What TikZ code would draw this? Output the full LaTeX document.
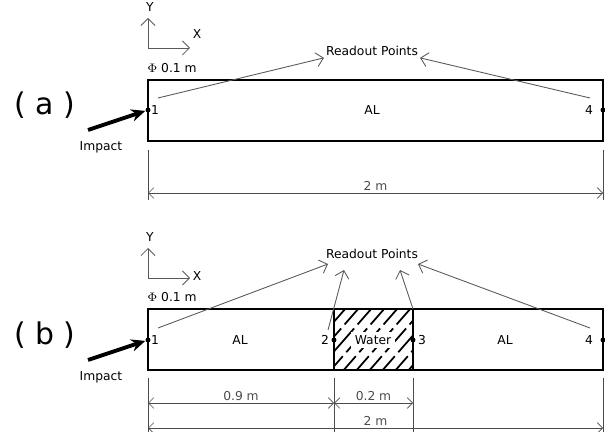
\documentclass[tikz,border=0pt]{standalone}
\usepackage{fontspec}
\setmainfont{DejaVu Sans}
\usetikzlibrary{arrows.meta}
\tikzset{
    bar/.style = {line width=1.2pt,draw=black},
    thin/.style = {-{Straight Barb[length=4pt]},gray!70!black,line width=0.5pt},
    dimline/.style = {{Straight Barb[length=3pt]}-{Straight Barb[length=3pt]},gray!60!black,line width=0.4pt},
    tick/.style = {gray!60!black,line width=0.4pt},
    lbl/.style = {font=\fontsize{7}{8}\selectfont,inner sep=1pt},
    big/.style = {font=\fontsize{17}{18}\selectfont},
    pt/.style = {circle,fill=black,inner sep=1pt},
    hit/.style = {-{Stealth[length=8pt,width=7pt]},line width=2.2pt}
}
\begin{document}
\begin{tikzpicture}[x=0.02cm,y=-0.02cm]
\useasboundingbox (0,0) rectangle (605,432);
% (a)
\node[big] (la) at (45,105) {( a )};
\coordinate (oa) at (148,48);
\draw[thin] (oa) -- (148,18);
\draw[thin] (oa) -- (190,48);
\node[lbl] at (150,7) {Y};
\node[lbl] at (197,34) {X};
\node[lbl] at (172,68) {$\Phi$ 0.1 m};
\draw[bar] (148,80) rectangle (603,141);
\node[lbl] (ala) at (372,110) {AL};
\node[pt] (a1) at (148,110) {};
\node[pt] (a4) at (603,110) {};
\node[lbl] at (155,110) {1};
\node[lbl] at (589,110) {4};
\node[lbl] (rpa) at (372,51) {Readout Points};
\draw[thin] (158,98) -- (rpa.south west);
\draw[thin] (590,98) -- (rpa.south east);
\coordinate (ia) at (88,130);
\draw[hit] (ia) -- (a1);
\node[lbl] at (101,147) {Impact};
\draw[tick] (148,150) -- (148,200) (603,150) -- (603,200);
\draw[dimline] (148,193) -- node[lbl,above] {2 m} (603,193);
% (b)
\node[big] (lb) at (45,335) {( b )};
\coordinate (ob) at (148,278);
\draw[thin] (ob) -- (148,248);
\draw[thin] (ob) -- (190,278);
\node[lbl] at (150,237) {Y};
\node[lbl] at (197,276) {X};
\node[lbl] at (172,297) {$\Phi$ 0.1 m};
\begin{scope}
\clip (334,309) rectangle (413,370);
\foreach \k in {0,...,12}
  \draw[line width=1pt,dash pattern=on 18pt off 3pt] (270+\k*13,380) -- (340+\k*13,300);
\end{scope}
\draw[bar] (148,309) rectangle (603,370);
\draw[bar] (334,309) -- (334,370) (413,309) -- (413,370);
\node[lbl] at (240,340) {AL};
\node[lbl] at (505,340) {AL};
\node[lbl,fill=white,inner sep=2pt] at (373,340) {Water};
\node[pt] (b1) at (148,340) {};
\node[pt] (b2) at (334,340) {};
\node[pt] (b3) at (413,340) {};
\node[pt] (b4) at (603,340) {};
\node[lbl] at (155,340) {1};
\node[lbl] at (325,340) {2};
\node[lbl] at (422,340) {3};
\node[lbl] at (589,340) {4};
\node[lbl] (rpb) at (372,254) {Readout Points};
\draw[thin] (158,328) -- (328,264);
\draw[thin] (328,330) -- (344,270);
\draw[thin] (413,309) -- (400,270);
\draw[thin] (590,328) -- (418,264);
\coordinate (ib) at (88,360);
\draw[hit] (ib) -- (b1);
\node[lbl] at (101,377) {Impact};
\draw[tick] (148,378) -- (148,432) (603,378) -- (603,432);
\draw[tick] (334,378) -- (334,443) (413,378) -- (413,443);
\draw[dimline] (148,403) -- node[lbl,above] {0.9 m} (334,403);
\draw[dimline] (334,403) -- node[lbl,above] {0.2 m} (413,403);
\draw[dimline] (148,428) -- node[lbl,above] {2 m} (603,428);
\end{tikzpicture}
\end{document}
